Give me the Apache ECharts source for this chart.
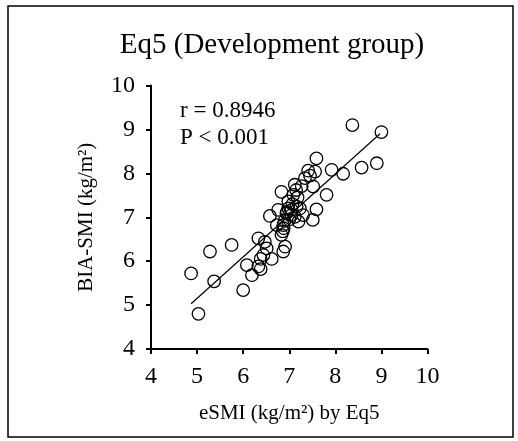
<!DOCTYPE html>
<html>
<head>
<meta charset="utf-8">
<script src="https://cdn.jsdelivr.net/npm/echarts@6/dist/echarts.min.js"></script>
<style>
  html, body { margin: 0; padding: 0; background: #fff; }
  #chart { width: 518px; height: 441px; }
</style>
</head>
<body>
<div id="chart"></div>
<script>
// eSMI estimated by Eq5 (x) vs measured BIA-SMI (y), kg/m²
const esmi = [8.37, 9.00, 8.90, 8.57, 8.17, 7.92, 7.59, 7.56, 7.41, 7.34,
              7.52, 7.27, 7.12, 7.09, 6.83, 7.81, 6.98, 7.16, 7.23, 7.59,
              6.76, 6.58, 6.94, 7.05, 7.12, 7.20, 7.51, 6.87, 6.73, 6.83,
              6.91, 6.87, 6.33, 6.47, 6.51, 6.44, 6.38, 6.62, 5.75, 5.28,
              6.08, 6.33, 6.38, 6.19, 6.00, 5.37, 4.87, 5.03, 6.88, 7.00,
              7.07, 7.18, 6.90, 7.30, 7.05, 6.95, 7.45, 6.86, 7.15, 6.98];
const biaSmi = [9.10, 8.94, 8.23, 8.13, 7.99, 8.08, 8.34, 8.04, 8.06, 7.89,
                7.70, 7.71, 7.74, 7.51, 7.58, 7.51, 7.36, 7.24, 7.20, 7.18,
                7.17, 7.03, 7.09, 7.17, 7.01, 6.90, 6.94, 6.82, 6.82, 6.60,
                6.33, 6.22, 6.52, 6.44, 6.29, 6.14, 6.05, 6.05, 6.37, 6.22,
                5.91, 5.88, 5.82, 5.68, 5.34, 5.54, 5.72, 4.80, 6.75, 6.95,
                7.30, 7.45, 6.92, 7.05, 7.05, 7.12, 7.95, 6.68, 7.62, 7.20];

// Least-squares fit line endpoints (x range of the data)
const fitLine = [[4.87, 5.03], [8.97, 8.90]];

const axisTicks = [4, 5, 6, 7, 8, 9, 10];
const titleText = 'Eq5 (Development group)';
const statLines = ['r = 0.8946', 'P < 0.001'];

const FONT = '"Liberation Serif", "Times New Roman", serif';
const points = esmi.map((x, i) => [x, biaSmi[i]]);

const chart = echarts.init(document.getElementById('chart'), null, { renderer: 'canvas' });

const axisCommon = {
  type: 'value',
  min: axisTicks[0],
  max: axisTicks[axisTicks.length - 1],
  interval: 1,
  nameLocation: 'middle',
  nameGap: 54,
  nameTextStyle: { fontFamily: FONT, fontSize: 21, color: '#000' },
  axisLine: { show: true, onZero: false, lineStyle: { color: '#000', width: 2 } },
  axisTick: { show: true, inside: false, length: 5, lineStyle: { color: '#000', width: 2 } },
  axisLabel: { fontFamily: FONT, fontSize: 24, color: '#000', margin: 16 },
  splitLine: { show: false }
};

chart.setOption({
  animation: false,
  backgroundColor: '#fff',
  title: {
    text: titleText,
    left: 267,
    top: 26,
    textAlign: 'center',
    textStyle: { fontFamily: FONT, fontSize: 29, fontWeight: 'normal', color: '#000' }
  },
  grid: { left: 151, right: 90.5, top: 85.5, bottom: 92, containLabel: false },
  xAxis: Object.assign({}, axisCommon, { name: 'eSMI (kg/m²) by Eq5' }),
  yAxis: Object.assign({}, axisCommon, { name: 'BIA-SMI (kg/m²)' }),
  graphic: [
    {
      type: 'rect',
      shape: { x: 8, y: 6, width: 505, height: 431 },
      style: { fill: 'none', stroke: '#000', lineWidth: 1.5 },
      silent: true
    },
    {
      type: 'text',
      left: 180,
      top: 97,
      style: {
        text: statLines.join('\n'),
        fontFamily: FONT,
        fontSize: 23,
        lineHeight: 27,
        fill: '#000'
      }
    }
  ],
  series: [
    {
      type: 'scatter',
      data: points,
      symbol: 'circle',
      symbolSize: 12.5,
      itemStyle: { color: 'rgba(255,255,255,0)', borderColor: '#000', borderWidth: 1.3, opacity: 1 },
      z: 3
    },
    {
      type: 'line',
      data: fitLine,
      symbol: 'none',
      lineStyle: { color: '#000', width: 1.2 },
      z: 2
    }
  ]
});
</script>
</body>
</html>
